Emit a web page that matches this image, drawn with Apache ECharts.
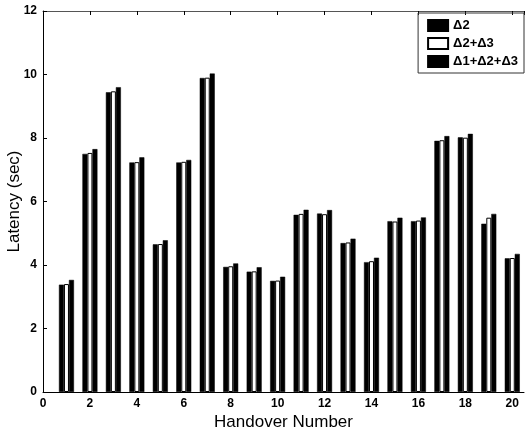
<!DOCTYPE html>
<html>
<head>
<meta charset="utf-8">
<script src="https://cdn.jsdelivr.net/npm/echarts@6/dist/echarts.min.js"></script>
<style>
  html, body { margin: 0; padding: 0; background: #fff; }
  #chart { width: 525px; height: 433px; }
</style>
</head>
<body>
<div id="chart"></div>
<script>
// values
var handovers = [1, 2, 3, 4, 5, 6, 7, 8, 9, 10, 11, 12, 13, 14, 15, 16, 17, 18, 19, 20];
var delta2 = [3.38, 7.50, 9.44, 7.23, 4.65, 7.23, 9.89, 3.94, 3.79, 3.50, 5.58, 5.62, 4.69, 4.09, 5.38, 5.38, 7.91, 8.02, 5.30, 4.21];
var delta23 = [3.40, 7.53, 9.47, 7.24, 4.66, 7.25, 9.90, 3.96, 3.80, 3.51, 5.61, 5.60, 4.71, 4.12, 5.37, 5.40, 7.93, 8.01, 5.49, 4.22];
var delta123 = [3.53, 7.65, 9.60, 7.39, 4.78, 7.31, 10.03, 4.05, 3.93, 3.63, 5.74, 5.73, 4.83, 4.23, 5.49, 5.50, 8.06, 8.13, 5.61, 4.35];
var seriesNames = ['Δ2', 'Δ2+Δ3', 'Δ1+Δ2+Δ3'];

function pairs(vals) {
  return handovers.map(function (h, i) { return [h, vals[i]]; });
}

var chart = echarts.init(document.getElementById('chart'));
var labelFont = { color: '#000', fontFamily: 'Liberation Sans, Arial', fontSize: 12, fontWeight: 'bold' };

chart.setOption({
  animation: false,
  grid: { left: 43, right: 1, top: 11, bottom: 41, outerBoundsMode: 'none', containLabel: false },
  legend: {
    orient: 'vertical',
    right: 1,
    top: 13,
    icon: 'rect',
    itemWidth: 20,
    itemHeight: 11,
    itemGap: 5,
    padding: [6, 6, 5, 9],
    borderColor: '#333',
    borderWidth: 1,
    borderRadius: 0,
    textStyle: { color: '#000', fontFamily: 'Liberation Sans, Arial', fontSize: 13, fontWeight: 'bold' },
    data: seriesNames
  },
  xAxis: [{
    type: 'value',
    min: 0,
    max: 20.5,
    interval: 2,
    name: 'Handover Number',
    nameLocation: 'middle',
    nameGap: 22,
    nameMoveOverlap: false,
    nameTextStyle: { color: '#000', fontFamily: 'Liberation Sans, Arial', fontSize: 17 },
    axisLine: { lineStyle: { color: '#000', width: 1 } },
    axisTick: { inside: true, length: 4, lineStyle: { color: '#000' } },
    axisLabel: Object.assign({ margin: 6, showMaxLabel: false }, labelFont),
    splitLine: { show: false }
  }, {
    type: 'value',
    position: 'top',
    min: 0,
    max: 20.5,
    interval: 2,
    axisLine: { show: true, lineStyle: { color: '#555', width: 1 } },
    axisTick: { inside: true, length: 4, lineStyle: { color: '#000' } },
    axisLabel: { show: false },
    splitLine: { show: false }
  }],
  yAxis: {
    type: 'value',
    min: 0,
    max: 12,
    interval: 2,
    name: 'Latency (sec)',
    nameLocation: 'middle',
    nameGap: 20,
    nameMoveOverlap: false,
    nameTextStyle: { color: '#000', fontFamily: 'Liberation Sans, Arial', fontSize: 17 },
    axisLine: { show: true, lineStyle: { color: '#000', width: 1 } },
    axisTick: { show: true, inside: true, length: 4, lineStyle: { color: '#000' } },
    axisLabel: Object.assign({ margin: 6 }, labelFont),
    splitLine: { show: false }
  },
  series: [{
    name: seriesNames[0],
    type: 'bar',
    barWidth: 5,
    barGap: '0%',
    itemStyle: { color: '#000', borderColor: '#000', borderWidth: 0.5 },
    data: pairs(delta2)
  }, {
    name: seriesNames[1],
    type: 'bar',
    barWidth: 5,
    barGap: '0%',
    itemStyle: { color: '#fff', borderColor: '#000', borderWidth: 1 },
    data: pairs(delta23)
  }, {
    name: seriesNames[2],
    type: 'bar',
    barWidth: 5,
    barGap: '0%',
    itemStyle: { color: '#000', borderColor: '#000', borderWidth: 0.5 },
    data: pairs(delta123)
  }]
});
</script>
</body>
</html>
